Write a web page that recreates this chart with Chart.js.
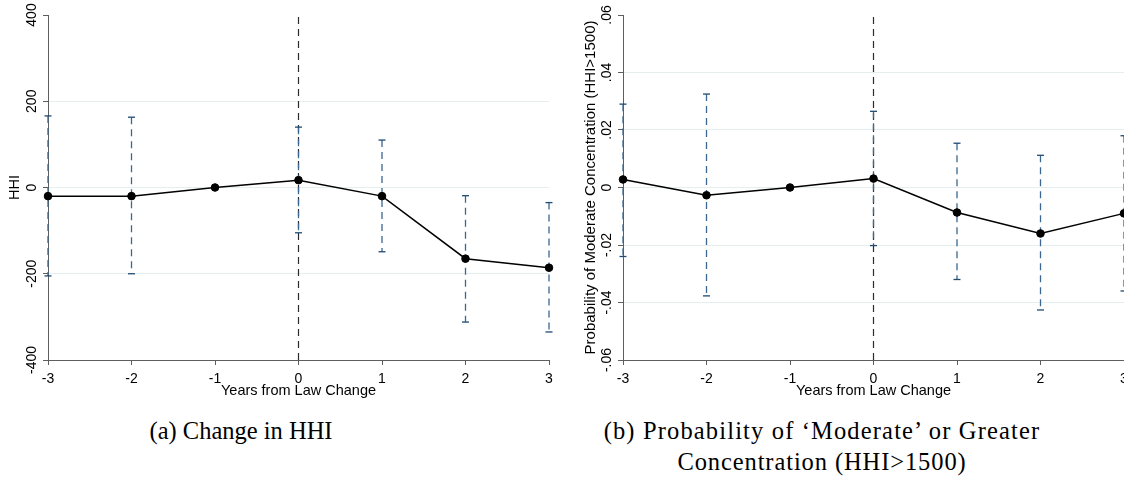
<!DOCTYPE html>
<html>
<head>
<meta charset="utf-8">
<script src="https://cdn.jsdelivr.net/npm/chart.js@4.4.0/dist/chart.umd.min.js"></script>
<style>
  body { margin: 0; background: #fff; width: 1124px; height: 481px; position: relative; overflow: hidden; }
  canvas { position: absolute; top: 0; }
  #chartA { left: 0; }
  #chartB { left: 575px; }
  .caption { position: absolute; font-family: 'Liberation Serif', 'Times New Roman', serif; font-size: 24.5px; color: #000; white-space: nowrap; transform: translateX(-50%); line-height: 31px; }
</style>
</head>
<body>
<canvas id="chartA" width="560" height="400"></canvas>
<canvas id="chartB" width="560" height="400"></canvas>
<div class="caption" style="left:241px; top:415px;">(a) Change in HHI</div>
<div class="caption" style="left:822px; top:415px; letter-spacing:1.15px;">(b) Probability of ‘Moderate’ or Greater</div>
<div class="caption" style="left:822px; top:446px; letter-spacing:0.9px;">Concentration (HHI&gt;1500)</div>
<script>
var years = [-3, -2, -1, 0, 1, 2, 3];
var lawChangeYear = 0;

var hhiCoef  = [-20, -20, 0, 17, -20, -165, -186];
var hhiLower = [-205, -200, null, -105, -149, -312, -335];
var hhiUpper = [166, 163, null, 140, 110, -19, -35];
var hhiTicks = [-400, -200, 0, 200, 400];
var hhiTickLabels = ['-400', '-200', '0', '200', '400'];

var probCoef  = [0.0028, -0.0027, 0, 0.0031, -0.0087, -0.016, -0.009];
var probLower = [-0.024, -0.0377, null, -0.0202, -0.032, -0.0426, -0.036];
var probUpper = [0.029, 0.0325, null, 0.0265, 0.0154, 0.0112, 0.018];
var probTicks = [-0.06, -0.04, -0.02, 0, 0.02, 0.04, 0.06];
var probTickLabels = ['-.06', '-.04', '-.02', '0', '.02', '.04', '.06'];

var axisColor = '#5e5e5e';
var gridColor = '#e6eff0';
var ciColor = '#3b6790';

Chart.defaults.font.family = "'Liberation Sans', Arial, sans-serif";
Chart.defaults.font.size = 14;
Chart.defaults.color = '#000';

function plotarGrafico(canvasId, coef, lower, upper, yTicks, yTickLabels, yTitle, yTitleSize, yPad) {
    var ctx = document.getElementById(canvasId).getContext('2d');
    var yMin = yTicks[0];
    var yMax = yTicks[yTicks.length - 1];

    var datasets = [
        {
            label: 'coef',
            data: years.map((x, i) => ({ x: x, y: coef[i] })),
            borderColor: '#000',
            borderWidth: 1.5,
            pointRadius: 3.8,
            pointBackgroundColor: '#000',
            pointBorderColor: '#000',
            pointBorderWidth: 1,
            order: 0,
            clip: false
        },
        {
            label: 'law change',
            data: [{ x: lawChangeYear, y: yMin }, { x: lawChangeYear, y: yMax }],
            borderColor: '#2b2b2b',
            borderWidth: 1.2,
            borderDash: [7, 5],
            pointRadius: 0,
            order: 2
        }
    ];

    years.forEach((x, i) => {
        if (lower[i] === null) return;
        datasets.push({
            label: 'ci',
            data: [{ x: x, y: upper[i] }, { x: x, y: lower[i] }],
            borderColor: ciColor,
            borderWidth: 1.3,
            borderDash: [7, 5],
            pointStyle: 'line',
            pointRadius: 3.5,
            pointBorderColor: '#1f4a72',
            pointBorderWidth: 1.3,
            order: 1,
            clip: false
        });
    });

    return new Chart(ctx, {
        type: 'line',
        data: { datasets: datasets },
        options: {
            responsive: false,
            animation: false,
            devicePixelRatio: 1,
            layout: { padding: { top: 15, right: 11, left: 0, bottom: 0 } },
            plugins: { legend: { display: false }, tooltip: { enabled: false } },
            scales: {
                x: {
                    type: 'linear',
                    min: years[0],
                    max: years[years.length - 1],
                    afterBuildTicks: scale => { scale.ticks = years.map(v => ({ value: v })); },
                    afterFit: scale => { scale.height = 40; },
                    ticks: {
                        padding: 6,
                        maxRotation: 0,
                        autoSkip: false,
                        callback: v => String(v)
                    },
                    grid: { drawOnChartArea: false, tickLength: 5, tickColor: axisColor },
                    border: { display: true, color: axisColor, width: 1 },
                    title: { display: true, text: 'Years from Law Change', font: { size: 14.5 }, padding: { top: 0, bottom: 0 } }
                },
                y: {
                    type: 'linear',
                    min: yMin,
                    max: yMax,
                    afterBuildTicks: scale => { scale.ticks = yTicks.map(v => ({ value: v })); },
                    afterFit: scale => { scale.width = 48; },
                    ticks: {
                        minRotation: 90,
                        maxRotation: 90,
                        crossAlign: 'center',
                        padding: yPad,
                        autoSkip: false,
                        callback: (v, i) => yTickLabels[i]
                    },
                    grid: {
                        color: c => (c.tick && (c.tick.value === yMin || c.tick.value === yMax)) ? 'rgba(0,0,0,0)' : gridColor,
                        lineWidth: 1,
                        tickLength: 5,
                        tickColor: axisColor
                    },
                    border: { display: true, color: axisColor, width: 1 },
                    title: { display: true, text: yTitle, font: { size: yTitleSize }, padding: { top: 6.4, bottom: 0 } }
                }
            }
        }
    });
}

plotarGrafico('chartA', hhiCoef, hhiLower, hhiUpper, hhiTicks, hhiTickLabels, 'HHI', 14.5, -3);
plotarGrafico('chartB', probCoef, probLower, probUpper, probTicks, probTickLabels, 'Probability of Moderate Concentration (HHI>1500)', 15, -1);
</script>
</body>
</html>
